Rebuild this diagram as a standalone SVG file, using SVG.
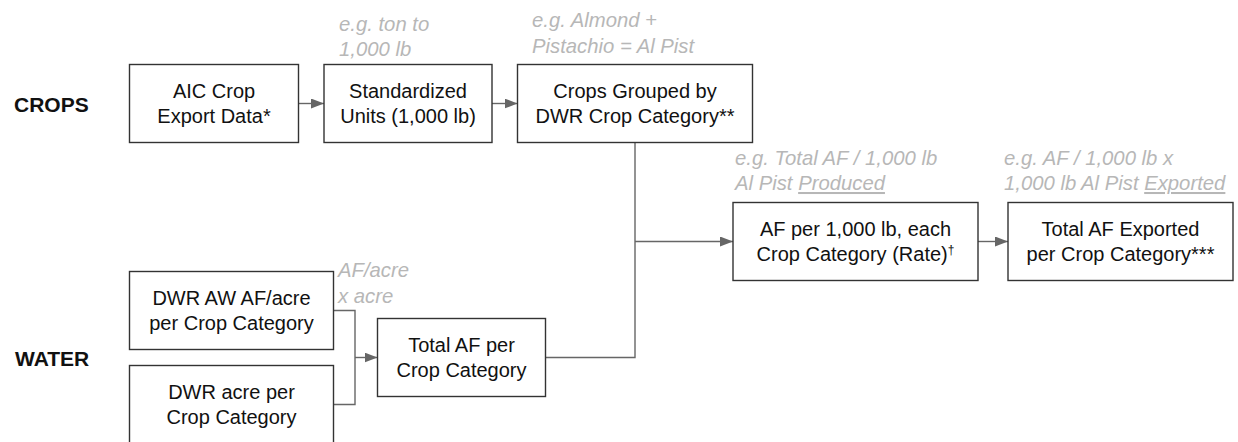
<svg xmlns="http://www.w3.org/2000/svg" width="1238" height="442" viewBox="0 0 1238 442">
  <defs>
    <marker id="arrow" markerUnits="userSpaceOnUse" markerWidth="13" markerHeight="10" refX="13" refY="5" orient="auto">
      <path d="M0,0 L13,5 L0,10 z" fill="#666666"/>
    </marker>
    <style>
      .box { fill: #ffffff; stroke: #333333; stroke-width: 1.4; }
      .txt { font-family: "Liberation Sans", Arial, sans-serif; font-size: 20px; fill: #111111; text-anchor: middle; }
      .note { font-family: "Liberation Sans", Arial, sans-serif; font-size: 20.3px; font-style: italic; fill: #b7b7b7; }
      .lbl { font-family: "Liberation Sans", Arial, sans-serif; font-size: 21px; font-weight: bold; fill: #111111; }
      .con { fill: none; stroke: #666666; stroke-width: 1.4; }
      .u { text-decoration: underline; }
      .sup { font-size: 12px; }
    </style>
  </defs>
  <rect width="1238" height="442" fill="#ffffff"/>

  <g id="labels">
    <text class="lbl" x="14" y="112">CROPS</text>
    <text class="lbl" x="15" y="366">WATER</text>
  </g>

  <g id="annotations">
    <text class="note" x="339" y="31">e.g. ton to</text>
    <text class="note" x="339" y="56">1,000 lb</text>
    <text class="note" x="532" y="27">e.g. Almond +</text>
    <text class="note" x="532" y="52.5">Pistachio = Al Pist</text>
    <text class="note" x="735" y="165">e.g. Total AF / 1,000 lb</text>
    <text class="note" x="735" y="190">Al Pist <tspan class="u">Produced</tspan></text>
    <text class="note" x="1004" y="165">e.g. AF / 1,000 lb x</text>
    <text class="note" x="1004" y="190">1,000 lb Al Pist <tspan class="u">Exported</tspan></text>
    <text class="note" x="338" y="277">AF/acre</text>
    <text class="note" x="338" y="302.5">x acre</text>
  </g>

  <g id="connectors">
    <line class="con" x1="298.5" y1="103.5" x2="324" y2="103.5" marker-end="url(#arrow)"/>
    <line class="con" x1="492" y1="103.5" x2="517.5" y2="103.5" marker-end="url(#arrow)"/>
    <polyline class="con" points="635,142.5 635,357.5 545.5,357.5"/>
    <line class="con" x1="635" y1="241.5" x2="733" y2="241.5" marker-end="url(#arrow)"/>
    <line class="con" x1="978" y1="241.5" x2="1008" y2="241.5" marker-end="url(#arrow)"/>
    <polyline class="con" points="333.5,310.5 355,310.5 355,404.5 333.5,404.5"/>
    <line class="con" x1="355" y1="357.5" x2="377.5" y2="357.5" marker-end="url(#arrow)"/>
  </g>

  <g id="node-aic">
    <rect class="box" x="129.5" y="64.5" width="169" height="78"/>
    <text class="txt" x="214" y="98">AIC Crop</text>
    <text class="txt" x="214" y="122.5">Export Data*</text>
  </g>
  <g id="node-standardized">
    <rect class="box" x="324" y="64.5" width="168" height="78"/>
    <text class="txt" x="408" y="98">Standardized</text>
    <text class="txt" x="408" y="122.5">Units (1,000 lb)</text>
  </g>
  <g id="node-grouped">
    <rect class="box" x="517.5" y="64.5" width="235" height="78"/>
    <text class="txt" x="635" y="98">Crops Grouped by</text>
    <text class="txt" x="635" y="122.5">DWR Crop Category**</text>
  </g>
  <g id="node-rate">
    <rect class="box" x="733" y="202.5" width="245" height="78"/>
    <text class="txt" x="855.5" y="236">AF per 1,000 lb, each</text>
    <text class="txt" x="855.5" y="260.5">Crop Category (Rate)<tspan class="sup" dy="-7">†</tspan></text>
  </g>
  <g id="node-exported">
    <rect class="box" x="1008" y="202.5" width="225" height="78"/>
    <text class="txt" x="1120.5" y="236">Total AF Exported</text>
    <text class="txt" x="1120.5" y="260.5">per Crop Category***</text>
  </g>
  <g id="node-afacre">
    <rect class="box" x="129.5" y="271.5" width="204" height="78"/>
    <text class="txt" x="231.5" y="305">DWR AW AF/acre</text>
    <text class="txt" x="231.5" y="329.5">per Crop Category</text>
  </g>
  <g id="node-acre">
    <rect class="box" x="129.5" y="365.5" width="204" height="78"/>
    <text class="txt" x="231.5" y="399">DWR acre per</text>
    <text class="txt" x="231.5" y="423.5">Crop Category</text>
  </g>
  <g id="node-totalaf">
    <rect class="box" x="377.5" y="318.5" width="168" height="78"/>
    <text class="txt" x="461.5" y="352">Total AF per</text>
    <text class="txt" x="461.5" y="376.5">Crop Category</text>
  </g>
</svg>
